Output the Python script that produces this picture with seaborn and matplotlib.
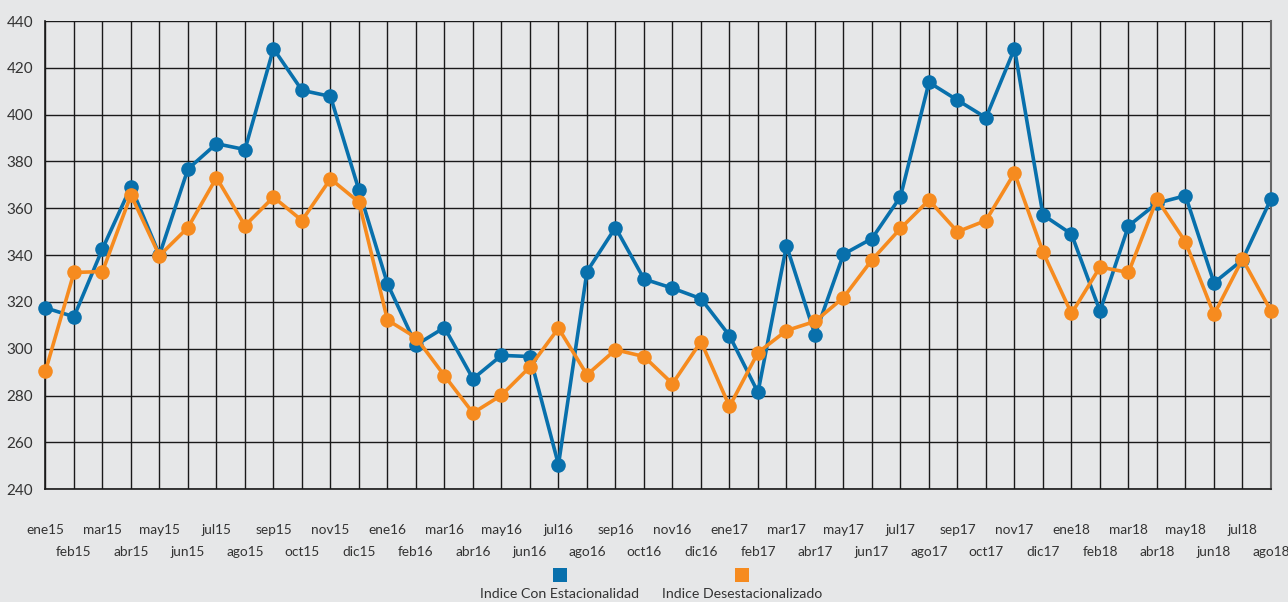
import matplotlib
matplotlib.use("Agg")
import matplotlib.pyplot as plt
import seaborn as sns
import pandas as pd
import numpy as np
from matplotlib.patches import Rectangle

months = ["ene15","feb15","mar15","abr15","may15","jun15","jul15","ago15","sep15","oct15","nov15","dic15",
          "ene16","feb16","mar16","abr16","may16","jun16","jul16","ago16","sep16","oct16","nov16","dic16",
          "ene17","feb17","mar17","abr17","may17","jun17","jul17","ago17","sep17","oct17","nov17","dic17",
          "ene18","feb18","mar18","abr18","may18","jun18","jul18","ago18"]

con_estacionalidad = [317.5, 313.7, 342.7, 369.3, 340.1, 376.8, 387.6, 385.1, 428.2, 410.4, 407.8, 367.7,
                      327.8, 301.6, 309.1, 287.2, 297.2, 296.7, 250.5, 333.0, 351.8, 329.8, 325.9, 321.4,
                      305.6, 281.4, 344.1, 306.0, 340.4, 347.1, 365.0, 413.8, 406.2, 398.7, 428.2, 357.2,
                      349.0, 316.1, 352.5, 362.2, 365.4, 328.2, 338.0, 364.0]

desestacionalizado = [290.5, 332.6, 333.0, 365.7, 339.8, 351.8, 373.1, 352.6, 364.8, 354.8, 372.6, 362.6,
                      312.3, 304.8, 288.5, 272.6, 280.2, 292.3, 308.8, 288.9, 299.6, 296.7, 285.1, 303.1,
                      275.4, 298.4, 307.8, 311.7, 321.9, 338.0, 351.4, 363.5, 350.0, 354.8, 375.1, 341.3,
                      315.1, 334.9, 332.6, 363.9, 345.6, 314.7, 338.3, 316.1]

series_names = ["Indice Con Estacionalidad", "Indice Desestacionalizado"]
colors = ["#0870AC", "#F68B1F"]
y_ticks = [240, 260, 280, 300, 320, 340, 360, 380, 400, 420, 440]

bg = "#E6E7E8"
txt = "#333333"

sns.set_theme(style="white")
plt.rcParams["font.family"] = ["Lato", "DejaVu Sans"]

df = pd.DataFrame({
    "x": list(range(len(months))) * 2,
    "valor": con_estacionalidad + desestacionalizado,
    "serie": [series_names[0]] * len(months) + [series_names[1]] * len(months),
})

fig = plt.figure(figsize=(12.88, 6.02), dpi=100, facecolor=bg)
ax = fig.add_axes([0.0353, 0.1872, 0.9515, 0.7779])
ax.set_facecolor(bg)

sns.lineplot(data=df, x="x", y="valor", hue="serie", palette=colors, hue_order=series_names,
             marker="o", markersize=10.5, markeredgewidth=0, linewidth=2.6, ax=ax, legend=False,
             zorder=3)
for ln in ax.lines:
    ln.set_clip_on(False)

ax.set_xlim(0, len(months) - 1)
ax.set_ylim(240, 440)
ax.set_yticks(y_ticks)
ax.set_yticklabels([str(v) for v in y_ticks], color=txt, fontsize=11)

major = list(range(0, len(months), 2))
minor = list(range(1, len(months), 2))
ax.set_xticks(major)
ax.set_xticklabels([months[i] for i in major], color=txt, fontsize=9.8)
ax.set_xticks(minor, minor=True)
ax.set_xticklabels([months[i] for i in minor], minor=True, color=txt, fontsize=9.8)
ax.tick_params(axis="x", which="major", length=0, pad=25)
ax.tick_params(axis="x", which="minor", length=0, pad=41)
ax.tick_params(axis="y", length=0, pad=9)

ax.grid(True, which="both", axis="x", color="#1a1a1a", linewidth=1.0)
ax.grid(True, which="major", axis="y", color="#1a1a1a", linewidth=1.0)
ax.set_axisbelow(True)
ax.spines["top"].set_visible(False)
for s in ["left", "bottom"]:
    ax.spines[s].set_color("#1a1a1a")
    ax.spines[s].set_linewidth(1.2)
ax.spines["right"].set_color("#666666")
ax.spines["right"].set_linewidth(1.5)
ax.set_xlabel("")
ax.set_ylabel("")

# legend: squares above labels
leg_x = [560 / 1288, 742 / 1288]
for name, c, lx in zip(series_names, colors, leg_x):
    sq = 14 / 1288
    sqh = 14 / 602
    fig.patches.append(Rectangle((lx - sq / 2, 1 - 582 / 602), sq, sqh, transform=fig.transFigure,
                                 facecolor=c, edgecolor="none"))
    fig.text(lx, 1 - 594 / 602, name, ha="center", va="center", fontsize=10.2, color=txt)

fig.savefig("out.png", dpi=100, facecolor=bg)
